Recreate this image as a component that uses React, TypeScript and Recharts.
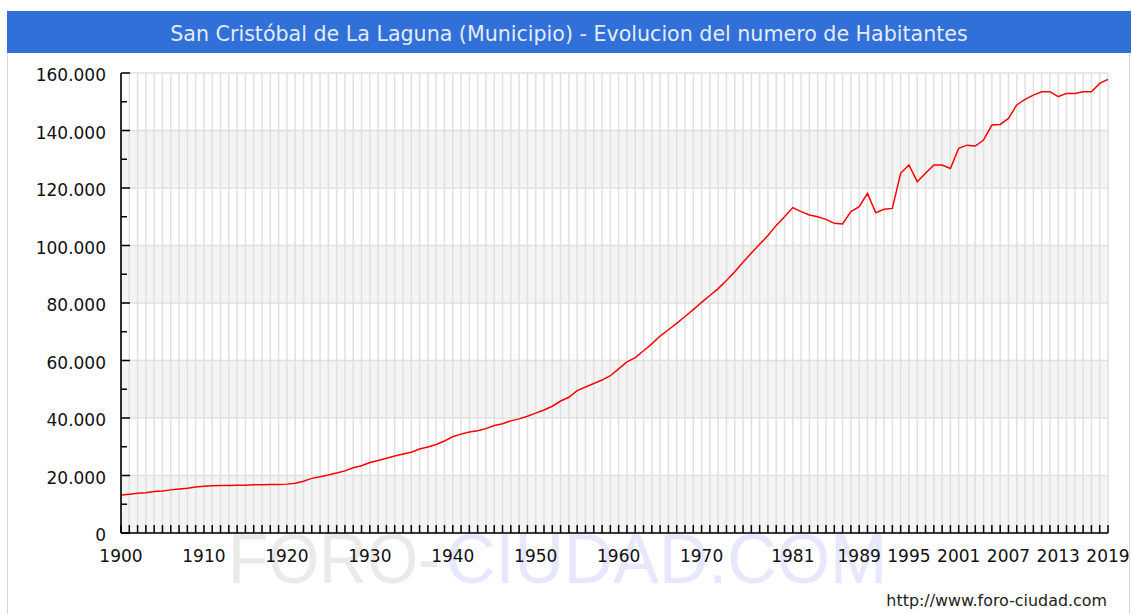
import React from 'react';
import { LineChart, Line, XAxis, YAxis, CartesianGrid } from 'recharts';

const TITLE = 'San Cristóbal de La Laguna (Municipio) - Evolucion del numero de Habitantes';
const FOOTER = 'http://www.foro-ciudad.com';

const years = [
  1900, 1901, 1902, 1903, 1904, 1905, 1906, 1907, 1908, 1909,
  1910, 1911, 1912, 1913, 1914, 1915, 1916, 1917, 1918, 1919,
  1920, 1921, 1922, 1923, 1924, 1925, 1926, 1927, 1928, 1929,
  1930, 1931, 1932, 1933, 1934, 1935, 1936, 1937, 1938, 1939,
  1940, 1941, 1942, 1943, 1944, 1945, 1946, 1947, 1948, 1949,
  1950, 1951, 1952, 1953, 1954, 1955, 1956, 1957, 1958, 1959,
  1960, 1961, 1962, 1963, 1964, 1965, 1966, 1967, 1968, 1969,
  1970, 1971, 1972, 1973, 1974, 1975, 1976, 1977, 1978, 1979,
  1980, 1981, 1982, 1983, 1984, 1985, 1986, 1987, 1988, 1989,
  1990, 1991, 1992, 1993, 1994, 1995, 1996, 1997, 1998, 1999,
  2000, 2001, 2002, 2003, 2004, 2005, 2006, 2007, 2008, 2009,
  2010, 2011, 2012, 2013, 2014, 2015, 2016, 2017, 2018, 2019,
];

const population = [
  13200, 13500, 13800, 14000, 14400, 14600, 15000, 15300, 15600, 16000,
  16300, 16400, 16500, 16500, 16600, 16600, 16800, 16800, 16900, 16900,
  17000, 17300, 18000, 19000, 19600, 20200, 20900, 21600, 22700, 23400,
  24500, 25200, 26000, 26800, 27500, 28100, 29200, 29900, 30800, 32000,
  33500, 34400, 35100, 35600, 36300, 37400, 38000, 39000, 39700, 40600,
  41700, 42800, 44100, 45900, 47200, 49500, 50800, 52000, 53200, 54700,
  57100, 59500, 61000, 63400, 65800, 68500, 70700, 72900, 75300, 77700,
  80200, 82600, 85000, 87800, 90900, 94200, 97400, 100400, 103500, 107000,
  110000, 113200, 111800, 110600, 110000, 109100, 107700, 107500, 111800, 113500,
  118100, 111400, 112600, 112900, 125100, 128000, 122200, 125100, 128000, 128000,
  126800, 133800, 134900, 134600, 136700, 141900, 142100, 144200, 148900, 150800,
  152300, 153500, 153500, 151800, 152900, 152900, 153500, 153500, 156400, 157800,
];

const labelYears = [1900, 1910, 1920, 1930, 1940, 1950, 1960, 1970, 1981, 1989, 1995, 2001, 2007, 2013, 2019];
const yTicks = [0, 10000, 20000, 30000, 40000, 50000, 60000, 70000, 80000, 90000, 100000, 110000, 120000, 130000, 140000, 150000, 160000];
const yMajor = [0, 20000, 40000, 60000, 80000, 100000, 120000, 140000, 160000];

const data = years.map((y, i) => ({ year: y, pop: population[i] }));

const FONT = '"DejaVu Sans", Verdana, sans-serif';

const fmt = (v: number) => (v === 0 ? '0' : v.toLocaleString('de-DE'));

const XTick = (props: any) => {
  const { x, y, payload } = props;
  const yr = payload.value;
  return (
    <g>
      <line x1={x} x2={x} y1={y} y2={y - 8} stroke="#000" strokeWidth={1.5} />
      {labelYears.includes(yr) && (
        <text x={x} y={y + 29} textAnchor="middle" fontSize={17} fontFamily={FONT} fill="#111">
          {yr}
        </text>
      )}
    </g>
  );
};

const YTick = (props: any) => {
  const { x, y, payload } = props;
  const v = payload.value;
  const major = yMajor.includes(v);
  return (
    <g>
      <line x1={x} x2={x + (major ? 9 : 6)} y1={y} y2={y} stroke="#000" strokeWidth={1.5} />
      {major && (
        <text x={x - 15} y={y + 8} textAnchor="end" fontSize={17} fontFamily={FONT} fill="#111">
          {fmt(v)}
        </text>
      )}
    </g>
  );
};

export default function App() {
  return (
    <div style={{ position: 'absolute', left: 0, top: 0, width: 1132, height: 614, background: '#fff', overflow: 'hidden' }}>
      <div style={{ position: 'absolute', left: 7, top: 11, width: 1123, height: 620, border: '1px solid #d6d6d6', boxSizing: 'border-box' }} />
      <div
        style={{
          position: 'absolute', left: 7, top: 11, width: 1124, height: 42, background: '#3170d8',
          color: '#e4ecf8', fontFamily: FONT, fontSize: 20.6, lineHeight: '47px', textAlign: 'center',
          overflow: 'hidden',
        }}
      >
        {TITLE}
      </div>
      <svg width={1132} height={614} style={{ position: 'absolute', left: 0, top: 0 }}>
        <text x={228} y={583} fontSize={70} fontFamily='"Liberation Sans", Arial, sans-serif' fill="#eaeaea" textLength={212} lengthAdjust="spacingAndGlyphs">FORO-</text>
        <text x={446} y={583} fontSize={70} fontFamily='"Liberation Sans", Arial, sans-serif' fill="#e7e7ff" textLength={441} lengthAdjust="spacingAndGlyphs">CIUDAD.COM</text>
        <text x={1107} y={606} fontSize={15.9} fontFamily={FONT} fill="#222" textAnchor="end">{FOOTER}</text>
      </svg>
      <div style={{ position: 'absolute', left: 0, top: 0 }}>
        <LineChart width={1132} height={614} data={data} margin={{ top: 73, right: 24, bottom: 51, left: 61 }}>
          <CartesianGrid
            stroke="#e0e0e0"
            strokeWidth={1.5}
            horizontalValues={yMajor}
            horizontalFill={['#ffffff', '#f4f4f4']}
            fillOpacity={1}
          />
          <XAxis
            dataKey="year"
            type="number"
            domain={[1900, 2019]}
            ticks={years}
            interval={0}
            height={30}
            tickSize={0}
            tickMargin={0}
            tickLine={false}
            axisLine={{ stroke: '#000', strokeWidth: 1.6 }}
            tick={<XTick />}
          />
          <YAxis
            type="number"
            domain={[0, 160000]}
            ticks={yTicks}
            interval={0}
            width={60}
            tickSize={0}
            tickMargin={0}
            tickLine={false}
            axisLine={{ stroke: '#000', strokeWidth: 1.6 }}
            tick={<YTick />}
          />
          <Line type="linear" dataKey="pop" stroke="#ff0000" strokeWidth={1.5} dot={false} isAnimationActive={false} />
        </LineChart>
      </div>
    </div>
  );
}
